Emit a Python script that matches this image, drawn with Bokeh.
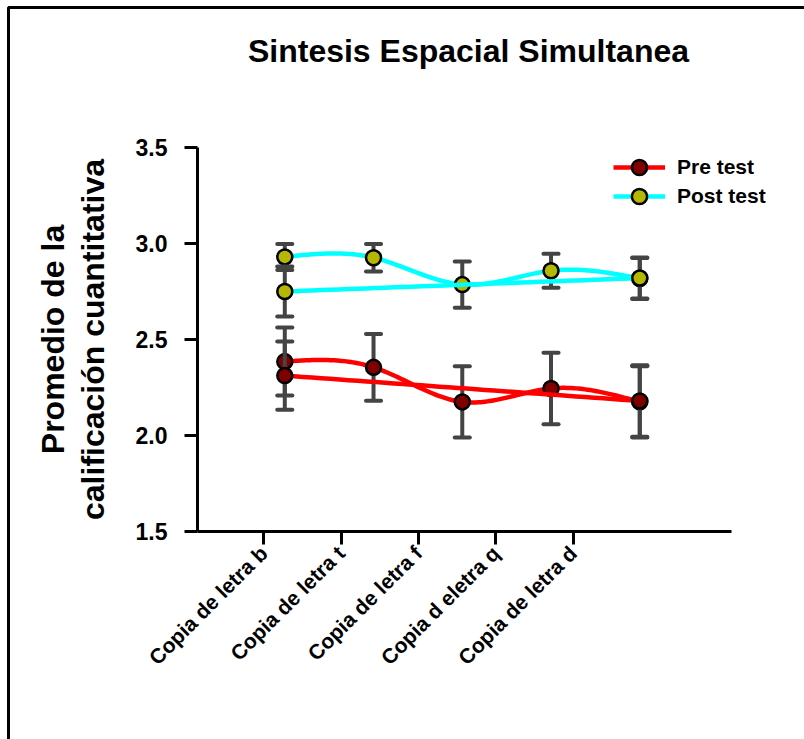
import math
import numpy as np
from bokeh.plotting import figure
from bokeh.models import (FixedTicker, NumeralTickFormatter, Label, Legend,
                          LegendItem, BoxAnnotation, LinearAxis)
from bokeh.embed import file_html
from bokeh.resources import INLINE

# ---------------- data ----------------
categories = ["Copia de letra b", "Copia de letra t", "Copia de letra f",
              "Copia d eletra q", "Copia de letra d"]
pre_mean = [2.385, 2.355, 2.175, 2.245, 2.175]
pre_sem = [0.177, 0.174, 0.186, 0.186, 0.186]
post_mean = [2.930, 2.926, 2.786, 2.858, 2.818]
post_sem = [0.068, 0.072, 0.120, 0.088, 0.107]
# second set of groups, only present at the first and last category
pre2_idx = [0, 4]
pre2_mean = [2.312, 2.180]
pre2_sem = [0.178, 0.186]
post2_idx = [0, 4]
post2_mean = [2.750, 2.820]
post2_sem = [0.130, 0.107]
y_ticks = [1.5, 2.0, 2.5, 3.0, 3.5]
series_names = ["Pre test", "Post test"]

FONT = "Liberation Sans"
PRE_LINE, PRE_FILL = "#FF0000", "#800000"
POST_LINE, POST_FILL = "#00FFFF", "#B5B800"
ERR = "#444444"

# layout (the plotting frame covers the whole canvas; axes are placed inside it)
W, H = 804, 739
X_RANGE = (-2.2034, 6.8563)
Y_RANGE = (0.4167, 4.2656)
AXIS_X = 0.0163            # where the y axis stands
X_BOUNDS = (0.0163, 6.033)  # extent of the x axis line
Y_BOUNDS = (1.5, 3.5)
TICK_POS = [0.763 + 0.8716 * k for k in range(len(categories))]


def spline_curve(xs, ys, per=40):
    xs = np.asarray(xs, float)
    ys = np.asarray(ys, float)
    n = len(xs)
    h = np.diff(xs)
    A = np.zeros((n, n))
    b = np.zeros(n)
    A[0, 0] = 1
    A[-1, -1] = 1
    for i in range(1, n - 1):
        A[i, i - 1] = h[i - 1]
        A[i, i] = 2 * (h[i - 1] + h[i])
        A[i, i + 1] = h[i]
        b[i] = 6 * ((ys[i + 1] - ys[i]) / h[i] - (ys[i] - ys[i - 1]) / h[i - 1])
    M = np.linalg.solve(A, b)
    ox, oy = [], []
    for i in range(n - 1):
        t = np.linspace(xs[i], xs[i + 1], per)
        a = xs[i + 1] - t
        c = t - xs[i]
        y = (M[i] * a ** 3 / (6 * h[i]) + M[i + 1] * c ** 3 / (6 * h[i])
             + (ys[i] / h[i] - M[i] * h[i] / 6) * a
             + (ys[i + 1] / h[i] - M[i + 1] * h[i] / 6) * c)
        ox.extend(t.tolist())
        oy.extend(y.tolist())
    return ox, oy


x_all = list(range(1, len(categories) + 1))

p = figure(width=W, height=H, x_range=X_RANGE, y_range=Y_RANGE,
           output_backend="svg", toolbar_location=None,
           x_axis_location=None, y_axis_location=None, min_border=0)
p.outline_line_color = None
p.grid.visible = False
p.background_fill_color = "white"
p.border_fill_color = "white"

CAP = 0.085


def draw_series(xs, means, sems, line_color, fill_color):
    lo = [m - s for m, s in zip(means, sems)]
    hi = [m + s for m, s in zip(means, sems)]
    p.segment(x0=xs, y0=lo, x1=xs, y1=hi, line_color=ERR, line_width=4)
    for ends in (lo, hi):
        p.segment(x0=[x - CAP for x in xs], y0=ends, x1=[x + CAP for x in xs],
                  y1=ends, line_color=ERR, line_width=4, line_cap="round")
    cx, cy = spline_curve(xs, means)
    ln = p.line(cx, cy, line_color=line_color, line_width=4.5, line_join="round")
    mk = p.scatter(xs, means, size=15, fill_color=fill_color,
                   line_color="black", line_width=2.5)
    return ln, mk


pre_ln, pre_mk = draw_series(x_all, pre_mean, pre_sem, PRE_LINE, PRE_FILL)
draw_series([x_all[i] for i in pre2_idx], pre2_mean, pre2_sem, PRE_LINE, PRE_FILL)
post_ln, post_mk = draw_series(x_all, post_mean, post_sem, POST_LINE, POST_FILL)
draw_series([x_all[i] for i in post2_idx], post2_mean, post2_sem, POST_LINE, POST_FILL)

# ---------------- axes ----------------
xaxis = LinearAxis(fixed_location=Y_BOUNDS[0], bounds=X_BOUNDS,
                   ticker=FixedTicker(ticks=TICK_POS),
                   major_label_overrides={t: c for t, c in zip(TICK_POS, categories)},
                   major_label_orientation=math.pi / 4)
yaxis = LinearAxis(fixed_location=AXIS_X, bounds=Y_BOUNDS,
                   ticker=FixedTicker(ticks=y_ticks),
                   formatter=NumeralTickFormatter(format="0.0"))
p.add_layout(xaxis, "below")
p.add_layout(yaxis, "left")

for ax in (xaxis, yaxis):
    ax.axis_line_width = 3
    ax.axis_line_color = "black"
    ax.major_tick_line_width = 3
    ax.major_tick_line_color = "black"
    ax.major_tick_out = 13
    ax.major_tick_in = 0
    ax.minor_tick_line_color = None
    ax.major_label_text_font = FONT
    ax.major_label_text_font_style = "bold"
    ax.major_label_text_color = "black"

yaxis.major_label_text_font_size = "23px"
yaxis.major_label_standoff = 17
xaxis.major_label_text_font_size = "21px"
xaxis.major_label_standoff = 5

yaxis.axis_label = "Promedio de la\ncalificación cuantitativa"
yaxis.axis_label_text_font = FONT
yaxis.axis_label_text_font_style = "bold"
yaxis.axis_label_text_font_size = "32px"
yaxis.axis_label_text_line_height = 1.1
yaxis.axis_label_text_color = "black"
yaxis.axis_label_standoff = 22

# ---------------- title ----------------
title = Label(x=3.07, y=4.005, text="Sintesis Espacial Simultanea",
              text_align="center", text_baseline="middle",
              text_font=FONT, text_font_style="bold", text_font_size="32px",
              text_color="black")
p.add_layout(title)

# ---------------- legend (one box per entry, to control row spacing) ----------------
for name, ln, mk, loc in [(series_names[0], pre_ln, pre_mk, (613, 553)),
                          (series_names[1], post_ln, post_mk, (613, 524))]:
    lg = Legend(items=[LegendItem(label=name, renderers=[ln, mk])],
                location=loc, padding=0, margin=0, spacing=0,
                glyph_width=52, glyph_height=38, label_height=38,
                label_standoff=12, border_line_color=None,
                background_fill_alpha=0,
                label_text_font=FONT, label_text_font_style="bold",
                label_text_font_size="21px", label_text_color="black")
    p.add_layout(lg)

# ---------------- outer frame (left and top edges visible) ----------------
frame_box = BoxAnnotation(left=-2.1133, right=8.0, top=4.2292, bottom=0.0,
                          fill_color=None, fill_alpha=0,
                          line_color="black", line_alpha=1.0, line_width=3)
p.add_layout(frame_box)

open("out.html", "w").write(file_html(p, INLINE))
